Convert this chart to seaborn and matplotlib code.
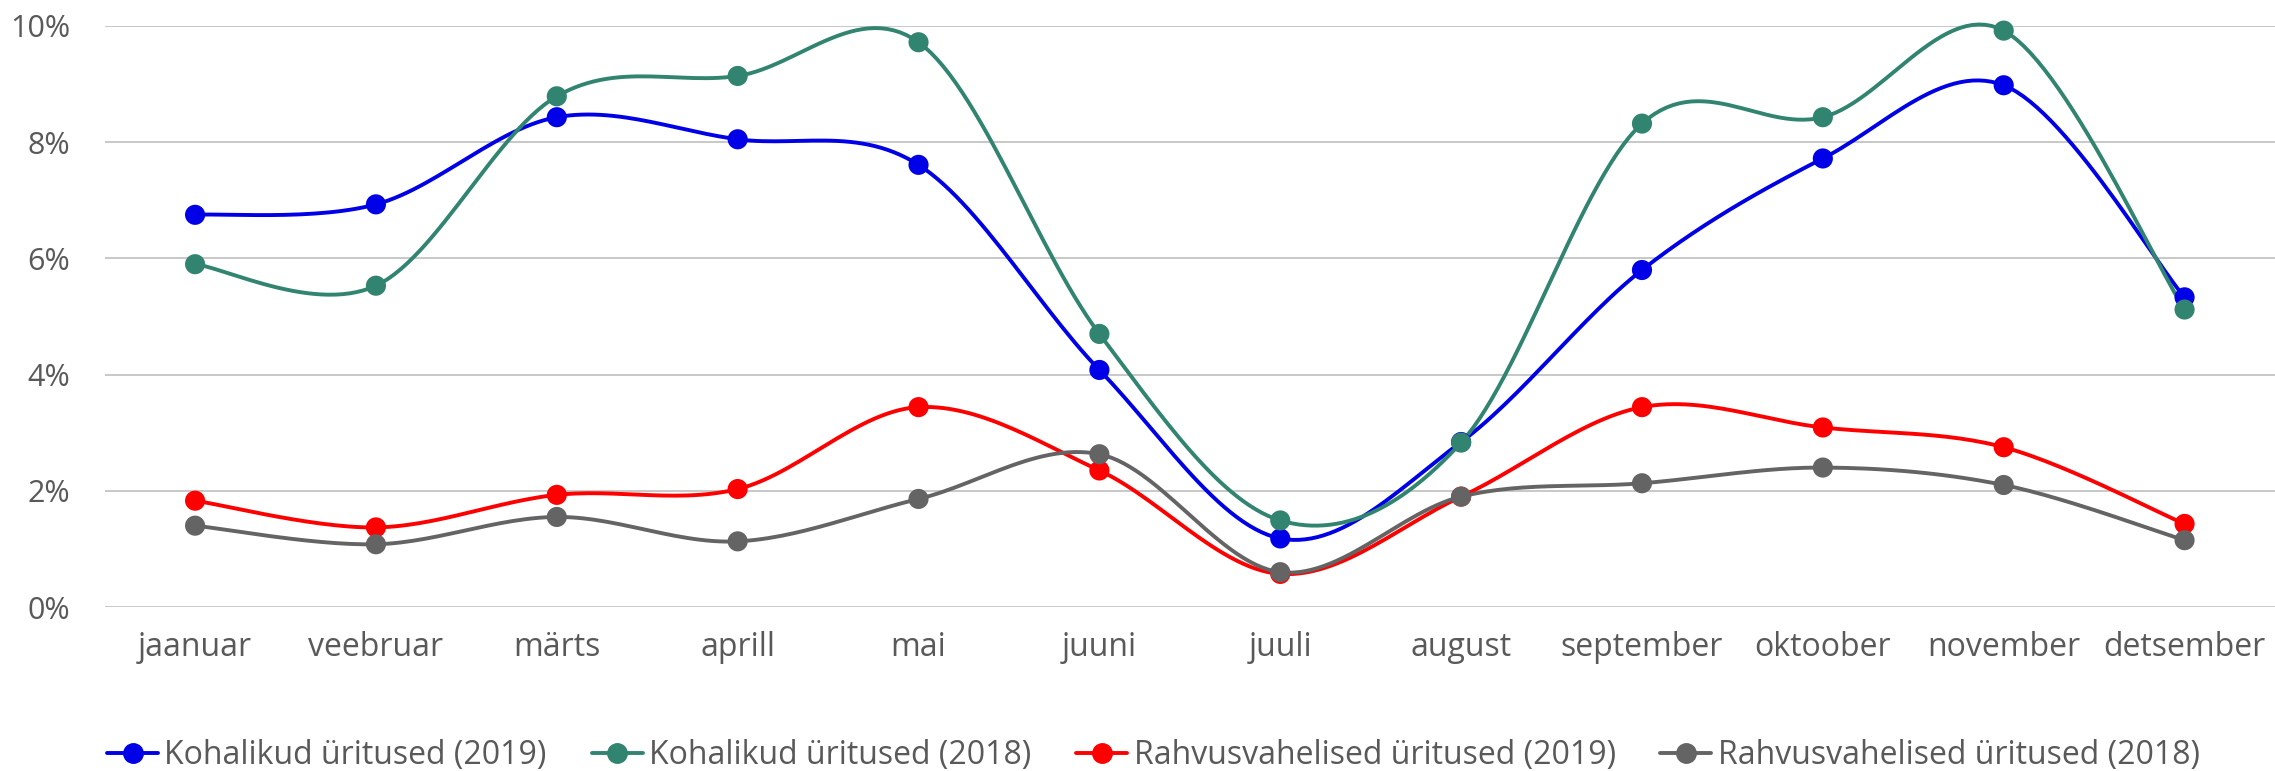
import numpy as np
import pandas as pd
import matplotlib
matplotlib.use("Agg")
import matplotlib.pyplot as plt
from matplotlib.lines import Line2D
import seaborn as sns

# ── data (share of events per month, %) ─────────────────────
months = ["jaanuar", "veebruar", "märts", "aprill", "mai", "juuni",
          "juuli", "august", "september", "oktoober", "november", "detsember"]

local_2019 = [6.75, 6.93, 8.43, 8.05, 7.61, 4.08, 1.18, 2.84, 5.80, 7.72, 8.98, 5.33]
local_2018 = [5.90, 5.53, 8.79, 9.14, 9.72, 4.70, 1.49, 2.83, 8.32, 8.43, 9.92, 5.12]
intl_2019 = [1.83, 1.37, 1.93, 2.03, 3.44, 2.35, 0.57, 1.90, 3.44, 3.09, 2.75, 1.43]
intl_2018 = [1.40, 1.08, 1.55, 1.13, 1.86, 2.63, 0.60, 1.90, 2.13, 2.40, 2.10, 1.15]

series_names = ["Kohalikud üritused (2019)", "Kohalikud üritused (2018)",
                "Rahvusvahelised üritused (2019)", "Rahvusvahelised üritused (2018)"]
series_vals = [local_2019, local_2018, intl_2019, intl_2018]
colors = ["#0000E8", "#318470", "#FF0000", "#646464"]

TXT = "#595959"

sns.set_theme(style="white")
plt.rcParams["font.family"] = ["Open Sans", "DejaVu Sans"]


def smooth(y, n=30):
    # Excel-style smoothed line: Catmull-Rom bezier through the points
    y = np.asarray(y, dtype=float)
    x = np.arange(len(y), dtype=float)
    P = np.column_stack([x, y])
    Pe = np.vstack([P[0], P, P[-1]])
    out = []
    t = np.linspace(0, 1, n)[:, None]
    for i in range(len(P) - 1):
        p0, p1, p2, p3 = Pe[i], Pe[i + 1], Pe[i + 2], Pe[i + 3]
        c1 = p1 + (p2 - p0) / 6
        c2 = p2 - (p3 - p1) / 6
        seg = ((1 - t) ** 3) * p1 + 3 * ((1 - t) ** 2) * t * c1 \
            + 3 * (1 - t) * t ** 2 * c2 + t ** 3 * p2
        out.append(seg if i == 0 else seg[1:])
    out = np.vstack(out)
    return out[:, 0], out[:, 1]


fig = plt.figure(figsize=(22.75, 7.71), dpi=100)
ax = fig.add_axes([0.046, 0.2127, 0.954, 0.7536])

for name, vals, col in zip(series_names, series_vals, colors):
    xs, ys = smooth(vals)
    sns.lineplot(x=xs, y=ys, ax=ax, color=col, linewidth=2.8,
                 sort=False, estimator=None, clip_on=False, zorder=3)
    sns.scatterplot(x=np.arange(len(months)), y=vals, ax=ax, color=col,
                    s=210, edgecolor="none", clip_on=False, zorder=4)

ax.set_xlim(-0.5, len(months) - 0.5)
ax.set_ylim(0, 10)
ax.set_xticks(range(len(months)))
ax.set_xticklabels(months)
ax.set_yticks([0, 2, 4, 6, 8, 10])
ax.set_yticklabels([f"{v}%" for v in [0, 2, 4, 6, 8, 10]])
ax.tick_params(axis="x", labelsize=23, colors=TXT, length=0, pad=17)
ax.tick_params(axis="y", labelsize=22, colors=TXT, length=0, pad=25)
ax.grid(axis="y", color="#C8C8C8", linewidth=1.4)
ax.grid(axis="x", visible=False)
for s in ax.spines.values():
    s.set_visible(False)
ax.set_axisbelow(True)

handles = [Line2D([0], [0], color=c, linewidth=2.8, marker="o", markersize=14)
           for c in colors]
fig.legend(handles, series_names, loc="center", bbox_to_anchor=(0.507, 0.02),
           ncol=4, frameon=False, fontsize=23, labelcolor=TXT,
           handlelength=1.6, handletextpad=0.2, columnspacing=1.4,
           borderpad=0, borderaxespad=0)

fig.savefig("out.png", dpi=100)
